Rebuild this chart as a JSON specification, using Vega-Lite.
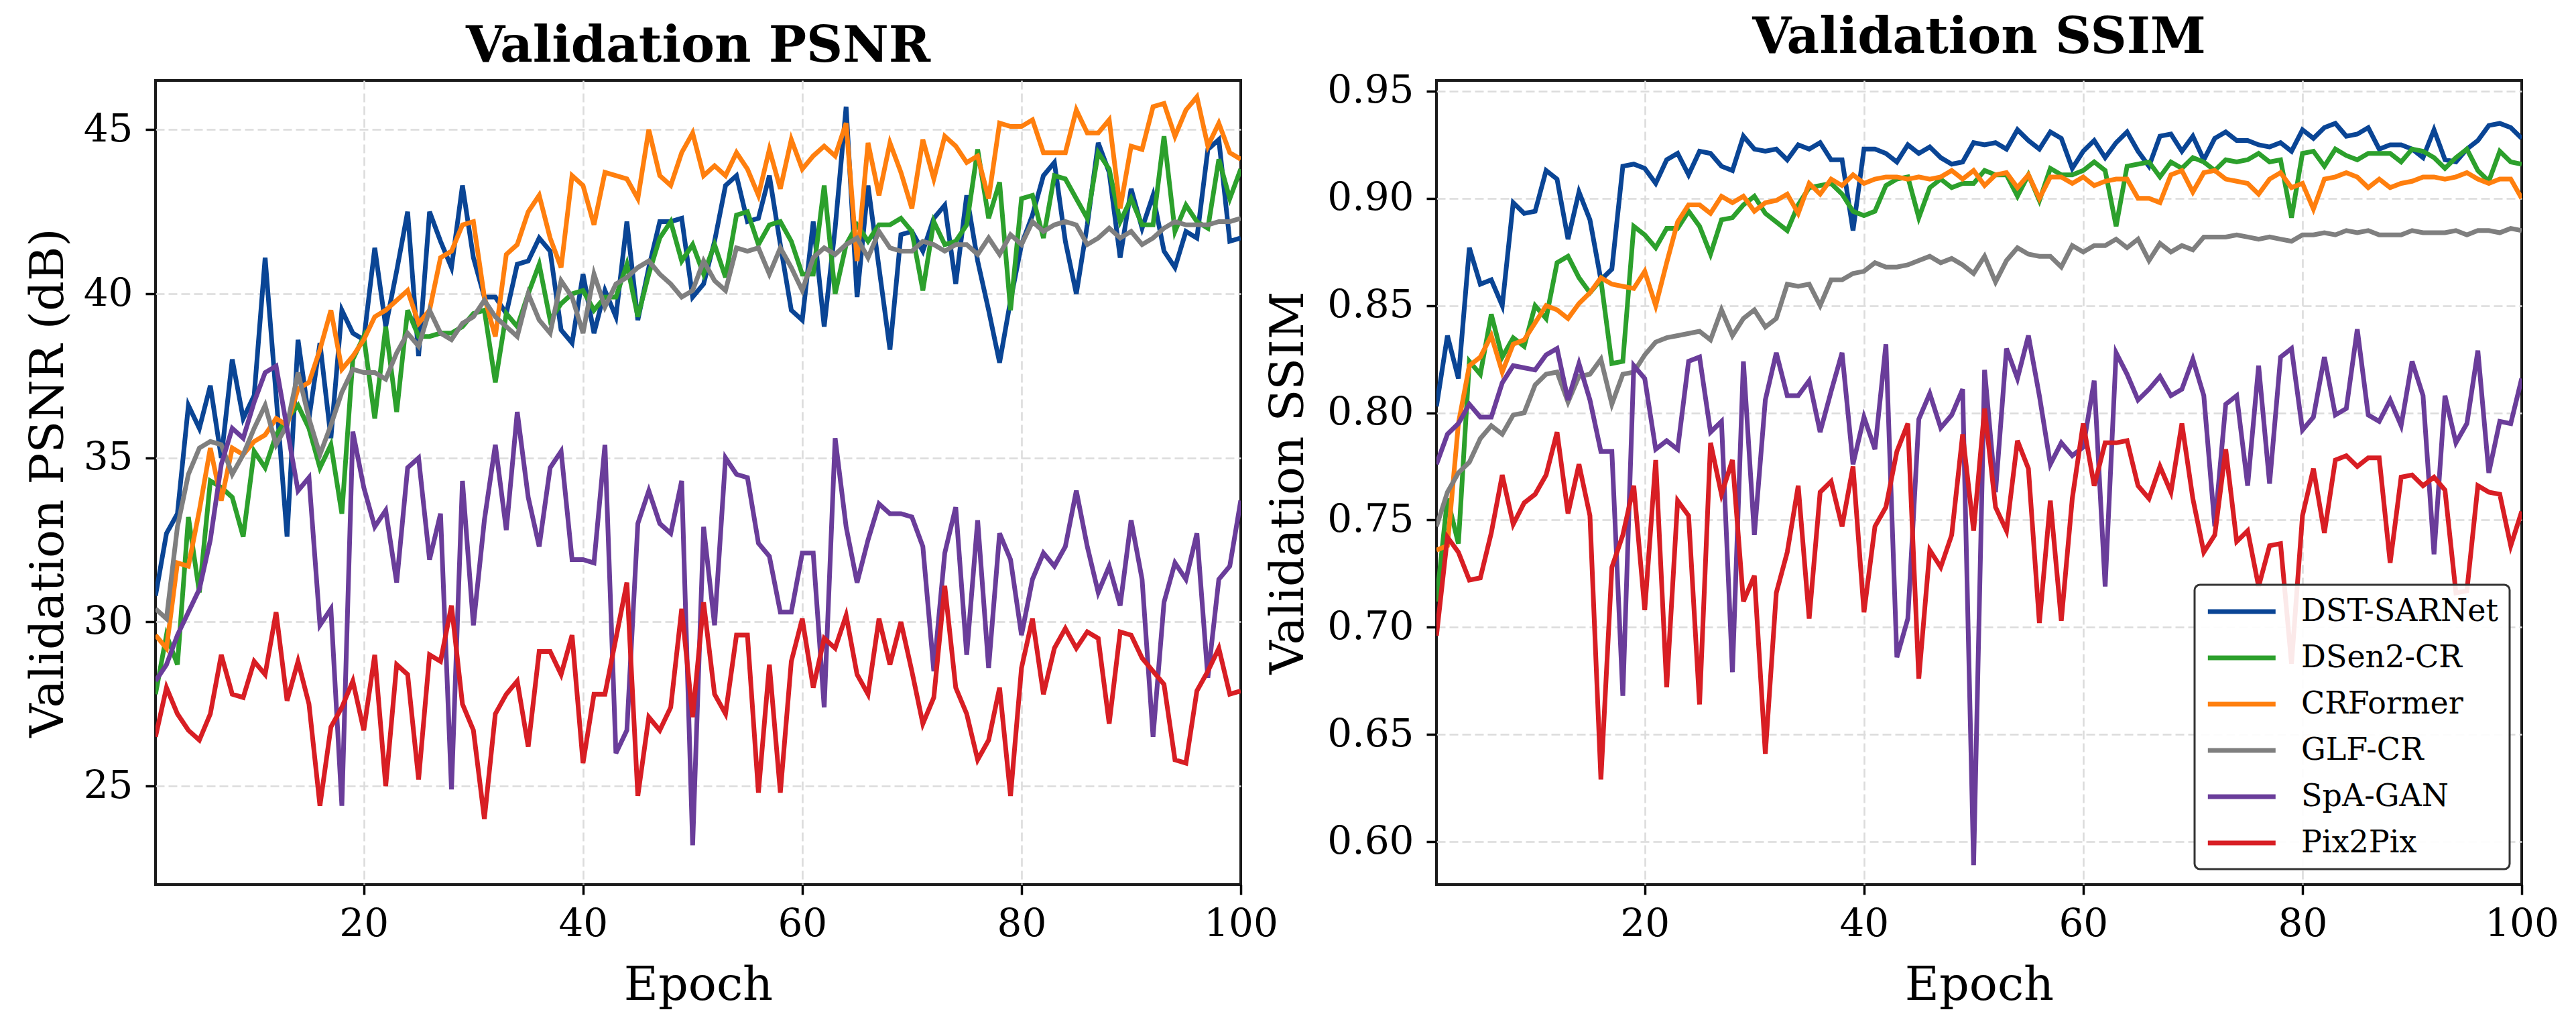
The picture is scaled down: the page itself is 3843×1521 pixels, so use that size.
{
  "$schema": "https://vega.github.io/schema/vega-lite/v6.json",
  "background": "white",
  "autosize": {"type": "pad"},
  "padding": {"left": 35, "top": 16, "right": 10, "bottom": 10},
  "config": {
    "font": "DejaVu Serif",
    "view": {"stroke": "#1a1a1a", "strokeWidth": 4, "fill": "white"},
    "axis": {
      "labelFont": "DejaVu Serif", "labelFontSize": 58, "labelColor": "#000",
      "titleFont": "DejaVu Serif", "titleFontSize": 70, "titleFontWeight": "normal", "titleColor": "#000",
      "tickColor": "#000", "tickSize": 15, "tickWidth": 3.5, "domain": false,
      "grid": true, "gridColor": "#dcdcdc", "gridDash": [13, 6], "gridWidth": 2.6
    },
    "axisX": {"labelPadding": 15, "titlePadding": 28, "labelFlush": false},
    "axisY": {"labelPadding": 19},
    "title": {"font": "DejaVu Serif", "fontSize": 75, "fontWeight": "bold", "color": "#000", "offset": 12, "anchor": "middle"},
    "line": {"strokeWidth": 7},
    "legend": {"strokeColor": "#333333", "strokeWidth": 3, "cornerRadius": 8, "fillColor": "rgba(255,255,255,0.9)", "padding": 16}
  },
  "datasets": {
    "psnr": [
{"model":"DST-SARNet","epoch":1,"psnr":30.8},{"model":"DST-SARNet","epoch":2,"psnr":32.7},{"model":"DST-SARNet","epoch":3,"psnr":33.3},{"model":"DST-SARNet","epoch":4,"psnr":36.6},{"model":"DST-SARNet","epoch":5,"psnr":35.9},{"model":"DST-SARNet","epoch":6,"psnr":37.2},{"model":"DST-SARNet","epoch":7,"psnr":35.0},{"model":"DST-SARNet","epoch":8,"psnr":38.0},{"model":"DST-SARNet","epoch":9,"psnr":36.2},{"model":"DST-SARNet","epoch":10,"psnr":36.9},
{"model":"DST-SARNet","epoch":11,"psnr":41.1},{"model":"DST-SARNet","epoch":12,"psnr":36.9},{"model":"DST-SARNet","epoch":13,"psnr":32.6},{"model":"DST-SARNet","epoch":14,"psnr":38.6},{"model":"DST-SARNet","epoch":15,"psnr":36.2},{"model":"DST-SARNet","epoch":16,"psnr":38.5},{"model":"DST-SARNet","epoch":17,"psnr":35.6},{"model":"DST-SARNet","epoch":18,"psnr":39.5},{"model":"DST-SARNet","epoch":19,"psnr":38.8},{"model":"DST-SARNet","epoch":20,"psnr":38.6},
{"model":"DST-SARNet","epoch":21,"psnr":41.4},{"model":"DST-SARNet","epoch":22,"psnr":39.0},{"model":"DST-SARNet","epoch":23,"psnr":40.7},{"model":"DST-SARNet","epoch":24,"psnr":42.5},{"model":"DST-SARNet","epoch":25,"psnr":38.1},{"model":"DST-SARNet","epoch":26,"psnr":42.5},{"model":"DST-SARNet","epoch":27,"psnr":41.6},{"model":"DST-SARNet","epoch":28,"psnr":40.8},{"model":"DST-SARNet","epoch":29,"psnr":43.3},{"model":"DST-SARNet","epoch":30,"psnr":41.1},
{"model":"DST-SARNet","epoch":31,"psnr":39.9},{"model":"DST-SARNet","epoch":32,"psnr":39.9},{"model":"DST-SARNet","epoch":33,"psnr":39.4},{"model":"DST-SARNet","epoch":34,"psnr":40.9},{"model":"DST-SARNet","epoch":35,"psnr":41.0},{"model":"DST-SARNet","epoch":36,"psnr":41.7},{"model":"DST-SARNet","epoch":37,"psnr":41.3},{"model":"DST-SARNet","epoch":38,"psnr":38.9},{"model":"DST-SARNet","epoch":39,"psnr":38.5},{"model":"DST-SARNet","epoch":40,"psnr":40.6},
{"model":"DST-SARNet","epoch":41,"psnr":38.8},{"model":"DST-SARNet","epoch":42,"psnr":40.1},{"model":"DST-SARNet","epoch":43,"psnr":39.3},{"model":"DST-SARNet","epoch":44,"psnr":42.2},{"model":"DST-SARNet","epoch":45,"psnr":39.2},{"model":"DST-SARNet","epoch":46,"psnr":40.8},{"model":"DST-SARNet","epoch":47,"psnr":42.2},{"model":"DST-SARNet","epoch":48,"psnr":42.2},{"model":"DST-SARNet","epoch":49,"psnr":42.3},{"model":"DST-SARNet","epoch":50,"psnr":39.9},
{"model":"DST-SARNet","epoch":51,"psnr":40.3},{"model":"DST-SARNet","epoch":52,"psnr":41.6},{"model":"DST-SARNet","epoch":53,"psnr":43.3},{"model":"DST-SARNet","epoch":54,"psnr":43.6},{"model":"DST-SARNet","epoch":55,"psnr":42.2},{"model":"DST-SARNet","epoch":56,"psnr":42.3},{"model":"DST-SARNet","epoch":57,"psnr":43.6},{"model":"DST-SARNet","epoch":58,"psnr":41.5},{"model":"DST-SARNet","epoch":59,"psnr":39.5},{"model":"DST-SARNet","epoch":60,"psnr":39.2},
{"model":"DST-SARNet","epoch":61,"psnr":42.2},{"model":"DST-SARNet","epoch":62,"psnr":39.0},{"model":"DST-SARNet","epoch":63,"psnr":42.0},{"model":"DST-SARNet","epoch":64,"psnr":45.7},{"model":"DST-SARNet","epoch":65,"psnr":39.9},{"model":"DST-SARNet","epoch":66,"psnr":43.3},{"model":"DST-SARNet","epoch":67,"psnr":40.8},{"model":"DST-SARNet","epoch":68,"psnr":38.3},{"model":"DST-SARNet","epoch":69,"psnr":41.8},{"model":"DST-SARNet","epoch":70,"psnr":41.9},
{"model":"DST-SARNet","epoch":71,"psnr":41.3},{"model":"DST-SARNet","epoch":72,"psnr":42.3},{"model":"DST-SARNet","epoch":73,"psnr":42.7},{"model":"DST-SARNet","epoch":74,"psnr":40.3},{"model":"DST-SARNet","epoch":75,"psnr":43.0},{"model":"DST-SARNet","epoch":76,"psnr":41.0},{"model":"DST-SARNet","epoch":77,"psnr":39.5},{"model":"DST-SARNet","epoch":78,"psnr":37.9},{"model":"DST-SARNet","epoch":79,"psnr":39.8},{"model":"DST-SARNet","epoch":80,"psnr":41.5},
{"model":"DST-SARNet","epoch":81,"psnr":42.4},{"model":"DST-SARNet","epoch":82,"psnr":43.6},{"model":"DST-SARNet","epoch":83,"psnr":44.0},{"model":"DST-SARNet","epoch":84,"psnr":41.6},{"model":"DST-SARNet","epoch":85,"psnr":40.0},{"model":"DST-SARNet","epoch":86,"psnr":42.1},{"model":"DST-SARNet","epoch":87,"psnr":44.6},{"model":"DST-SARNet","epoch":88,"psnr":43.7},{"model":"DST-SARNet","epoch":89,"psnr":41.1},{"model":"DST-SARNet","epoch":90,"psnr":43.2},
{"model":"DST-SARNet","epoch":91,"psnr":42.0},{"model":"DST-SARNet","epoch":92,"psnr":43.0},{"model":"DST-SARNet","epoch":93,"psnr":41.3},{"model":"DST-SARNet","epoch":94,"psnr":40.8},{"model":"DST-SARNet","epoch":95,"psnr":41.9},{"model":"DST-SARNet","epoch":96,"psnr":41.7},{"model":"DST-SARNet","epoch":97,"psnr":44.4},{"model":"DST-SARNet","epoch":98,"psnr":44.7},{"model":"DST-SARNet","epoch":99,"psnr":41.6},{"model":"DST-SARNet","epoch":100,"psnr":41.7},
{"model":"DSen2-CR","epoch":1,"psnr":27.8},{"model":"DSen2-CR","epoch":2,"psnr":29.6},{"model":"DSen2-CR","epoch":3,"psnr":28.7},{"model":"DSen2-CR","epoch":4,"psnr":33.2},{"model":"DSen2-CR","epoch":5,"psnr":30.9},{"model":"DSen2-CR","epoch":6,"psnr":34.3},{"model":"DSen2-CR","epoch":7,"psnr":34.1},{"model":"DSen2-CR","epoch":8,"psnr":33.8},{"model":"DSen2-CR","epoch":9,"psnr":32.6},{"model":"DSen2-CR","epoch":10,"psnr":35.2},
{"model":"DSen2-CR","epoch":11,"psnr":34.7},{"model":"DSen2-CR","epoch":12,"psnr":35.7},{"model":"DSen2-CR","epoch":13,"psnr":36.2},{"model":"DSen2-CR","epoch":14,"psnr":36.6},{"model":"DSen2-CR","epoch":15,"psnr":35.9},{"model":"DSen2-CR","epoch":16,"psnr":34.7},{"model":"DSen2-CR","epoch":17,"psnr":35.4},{"model":"DSen2-CR","epoch":18,"psnr":33.3},{"model":"DSen2-CR","epoch":19,"psnr":38.0},{"model":"DSen2-CR","epoch":20,"psnr":38.7},
{"model":"DSen2-CR","epoch":21,"psnr":36.2},{"model":"DSen2-CR","epoch":22,"psnr":39.0},{"model":"DSen2-CR","epoch":23,"psnr":36.4},{"model":"DSen2-CR","epoch":24,"psnr":39.5},{"model":"DSen2-CR","epoch":25,"psnr":38.7},{"model":"DSen2-CR","epoch":26,"psnr":38.7},{"model":"DSen2-CR","epoch":27,"psnr":38.8},{"model":"DSen2-CR","epoch":28,"psnr":38.8},{"model":"DSen2-CR","epoch":29,"psnr":39.0},{"model":"DSen2-CR","epoch":30,"psnr":39.4},
{"model":"DSen2-CR","epoch":31,"psnr":39.5},{"model":"DSen2-CR","epoch":32,"psnr":37.3},{"model":"DSen2-CR","epoch":33,"psnr":39.4},{"model":"DSen2-CR","epoch":34,"psnr":39.0},{"model":"DSen2-CR","epoch":35,"psnr":40.0},{"model":"DSen2-CR","epoch":36,"psnr":40.9},{"model":"DSen2-CR","epoch":37,"psnr":39.2},{"model":"DSen2-CR","epoch":38,"psnr":39.7},{"model":"DSen2-CR","epoch":39,"psnr":40.0},{"model":"DSen2-CR","epoch":40,"psnr":40.1},
{"model":"DSen2-CR","epoch":41,"psnr":39.5},{"model":"DSen2-CR","epoch":42,"psnr":39.9},{"model":"DSen2-CR","epoch":43,"psnr":39.9},{"model":"DSen2-CR","epoch":44,"psnr":40.9},{"model":"DSen2-CR","epoch":45,"psnr":39.3},{"model":"DSen2-CR","epoch":46,"psnr":40.6},{"model":"DSen2-CR","epoch":47,"psnr":41.7},{"model":"DSen2-CR","epoch":48,"psnr":42.2},{"model":"DSen2-CR","epoch":49,"psnr":41.0},{"model":"DSen2-CR","epoch":50,"psnr":41.5},
{"model":"DSen2-CR","epoch":51,"psnr":40.6},{"model":"DSen2-CR","epoch":52,"psnr":41.5},{"model":"DSen2-CR","epoch":53,"psnr":40.5},{"model":"DSen2-CR","epoch":54,"psnr":42.4},{"model":"DSen2-CR","epoch":55,"psnr":42.5},{"model":"DSen2-CR","epoch":56,"psnr":41.5},{"model":"DSen2-CR","epoch":57,"psnr":42.1},{"model":"DSen2-CR","epoch":58,"psnr":42.2},{"model":"DSen2-CR","epoch":59,"psnr":41.6},{"model":"DSen2-CR","epoch":60,"psnr":40.6},
{"model":"DSen2-CR","epoch":61,"psnr":40.6},{"model":"DSen2-CR","epoch":62,"psnr":43.3},{"model":"DSen2-CR","epoch":63,"psnr":40.0},{"model":"DSen2-CR","epoch":64,"psnr":41.5},{"model":"DSen2-CR","epoch":65,"psnr":42.1},{"model":"DSen2-CR","epoch":66,"psnr":41.6},{"model":"DSen2-CR","epoch":67,"psnr":42.1},{"model":"DSen2-CR","epoch":68,"psnr":42.1},{"model":"DSen2-CR","epoch":69,"psnr":42.3},{"model":"DSen2-CR","epoch":70,"psnr":41.9},
{"model":"DSen2-CR","epoch":71,"psnr":40.1},{"model":"DSen2-CR","epoch":72,"psnr":42.2},{"model":"DSen2-CR","epoch":73,"psnr":41.5},{"model":"DSen2-CR","epoch":74,"psnr":41.6},{"model":"DSen2-CR","epoch":75,"psnr":42.1},{"model":"DSen2-CR","epoch":76,"psnr":44.4},{"model":"DSen2-CR","epoch":77,"psnr":42.3},{"model":"DSen2-CR","epoch":78,"psnr":43.4},{"model":"DSen2-CR","epoch":79,"psnr":39.5},{"model":"DSen2-CR","epoch":80,"psnr":42.9},
{"model":"DSen2-CR","epoch":81,"psnr":43.0},{"model":"DSen2-CR","epoch":82,"psnr":41.7},{"model":"DSen2-CR","epoch":83,"psnr":43.6},{"model":"DSen2-CR","epoch":84,"psnr":43.5},{"model":"DSen2-CR","epoch":85,"psnr":42.9},{"model":"DSen2-CR","epoch":86,"psnr":42.3},{"model":"DSen2-CR","epoch":87,"psnr":44.3},{"model":"DSen2-CR","epoch":88,"psnr":43.8},{"model":"DSen2-CR","epoch":89,"psnr":42.2},{"model":"DSen2-CR","epoch":90,"psnr":42.9},
{"model":"DSen2-CR","epoch":91,"psnr":42.1},{"model":"DSen2-CR","epoch":92,"psnr":42.1},{"model":"DSen2-CR","epoch":93,"psnr":44.8},{"model":"DSen2-CR","epoch":94,"psnr":41.9},{"model":"DSen2-CR","epoch":95,"psnr":42.7},{"model":"DSen2-CR","epoch":96,"psnr":42.2},{"model":"DSen2-CR","epoch":97,"psnr":42.0},{"model":"DSen2-CR","epoch":98,"psnr":44.1},{"model":"DSen2-CR","epoch":99,"psnr":42.9},{"model":"DSen2-CR","epoch":100,"psnr":43.8},
{"model":"CRFormer","epoch":1,"psnr":29.6},{"model":"CRFormer","epoch":2,"psnr":29.2},{"model":"CRFormer","epoch":3,"psnr":31.8},{"model":"CRFormer","epoch":4,"psnr":31.7},{"model":"CRFormer","epoch":5,"psnr":33.4},{"model":"CRFormer","epoch":6,"psnr":35.3},{"model":"CRFormer","epoch":7,"psnr":33.7},{"model":"CRFormer","epoch":8,"psnr":35.3},{"model":"CRFormer","epoch":9,"psnr":35.1},{"model":"CRFormer","epoch":10,"psnr":35.5},
{"model":"CRFormer","epoch":11,"psnr":35.7},{"model":"CRFormer","epoch":12,"psnr":36.2},{"model":"CRFormer","epoch":13,"psnr":36.0},{"model":"CRFormer","epoch":14,"psnr":37.1},{"model":"CRFormer","epoch":15,"psnr":37.3},{"model":"CRFormer","epoch":16,"psnr":38.3},{"model":"CRFormer","epoch":17,"psnr":39.5},{"model":"CRFormer","epoch":18,"psnr":37.7},{"model":"CRFormer","epoch":19,"psnr":38.1},{"model":"CRFormer","epoch":20,"psnr":38.6},
{"model":"CRFormer","epoch":21,"psnr":39.3},{"model":"CRFormer","epoch":22,"psnr":39.5},{"model":"CRFormer","epoch":23,"psnr":39.8},{"model":"CRFormer","epoch":24,"psnr":40.1},{"model":"CRFormer","epoch":25,"psnr":39.1},{"model":"CRFormer","epoch":26,"psnr":39.5},{"model":"CRFormer","epoch":27,"psnr":41.1},{"model":"CRFormer","epoch":28,"psnr":41.3},{"model":"CRFormer","epoch":29,"psnr":42.1},{"model":"CRFormer","epoch":30,"psnr":42.2},
{"model":"CRFormer","epoch":31,"psnr":39.9},{"model":"CRFormer","epoch":32,"psnr":38.7},{"model":"CRFormer","epoch":33,"psnr":41.2},{"model":"CRFormer","epoch":34,"psnr":41.5},{"model":"CRFormer","epoch":35,"psnr":42.5},{"model":"CRFormer","epoch":36,"psnr":43.0},{"model":"CRFormer","epoch":37,"psnr":41.7},{"model":"CRFormer","epoch":38,"psnr":40.8},{"model":"CRFormer","epoch":39,"psnr":43.6},{"model":"CRFormer","epoch":40,"psnr":43.3},
{"model":"CRFormer","epoch":41,"psnr":42.1},{"model":"CRFormer","epoch":42,"psnr":43.7},{"model":"CRFormer","epoch":43,"psnr":43.6},{"model":"CRFormer","epoch":44,"psnr":43.5},{"model":"CRFormer","epoch":45,"psnr":42.9},{"model":"CRFormer","epoch":46,"psnr":45.0},{"model":"CRFormer","epoch":47,"psnr":43.6},{"model":"CRFormer","epoch":48,"psnr":43.3},{"model":"CRFormer","epoch":49,"psnr":44.3},{"model":"CRFormer","epoch":50,"psnr":44.9},
{"model":"CRFormer","epoch":51,"psnr":43.6},{"model":"CRFormer","epoch":52,"psnr":43.9},{"model":"CRFormer","epoch":53,"psnr":43.6},{"model":"CRFormer","epoch":54,"psnr":44.3},{"model":"CRFormer","epoch":55,"psnr":43.8},{"model":"CRFormer","epoch":56,"psnr":43.0},{"model":"CRFormer","epoch":57,"psnr":44.4},{"model":"CRFormer","epoch":58,"psnr":43.2},{"model":"CRFormer","epoch":59,"psnr":44.7},{"model":"CRFormer","epoch":60,"psnr":43.8},
{"model":"CRFormer","epoch":61,"psnr":44.2},{"model":"CRFormer","epoch":62,"psnr":44.5},{"model":"CRFormer","epoch":63,"psnr":44.2},{"model":"CRFormer","epoch":64,"psnr":45.2},{"model":"CRFormer","epoch":65,"psnr":41.0},{"model":"CRFormer","epoch":66,"psnr":44.6},{"model":"CRFormer","epoch":67,"psnr":43.0},{"model":"CRFormer","epoch":68,"psnr":44.6},{"model":"CRFormer","epoch":69,"psnr":43.7},{"model":"CRFormer","epoch":70,"psnr":42.6},
{"model":"CRFormer","epoch":71,"psnr":44.7},{"model":"CRFormer","epoch":72,"psnr":43.5},{"model":"CRFormer","epoch":73,"psnr":44.8},{"model":"CRFormer","epoch":74,"psnr":44.5},{"model":"CRFormer","epoch":75,"psnr":44.0},{"model":"CRFormer","epoch":76,"psnr":44.2},{"model":"CRFormer","epoch":77,"psnr":42.9},{"model":"CRFormer","epoch":78,"psnr":45.2},{"model":"CRFormer","epoch":79,"psnr":45.1},{"model":"CRFormer","epoch":80,"psnr":45.1},
{"model":"CRFormer","epoch":81,"psnr":45.3},{"model":"CRFormer","epoch":82,"psnr":44.3},{"model":"CRFormer","epoch":83,"psnr":44.3},{"model":"CRFormer","epoch":84,"psnr":44.3},{"model":"CRFormer","epoch":85,"psnr":45.6},{"model":"CRFormer","epoch":86,"psnr":44.9},{"model":"CRFormer","epoch":87,"psnr":44.9},{"model":"CRFormer","epoch":88,"psnr":45.3},{"model":"CRFormer","epoch":89,"psnr":42.6},{"model":"CRFormer","epoch":90,"psnr":44.5},
{"model":"CRFormer","epoch":91,"psnr":44.4},{"model":"CRFormer","epoch":92,"psnr":45.7},{"model":"CRFormer","epoch":93,"psnr":45.8},{"model":"CRFormer","epoch":94,"psnr":44.8},{"model":"CRFormer","epoch":95,"psnr":45.6},{"model":"CRFormer","epoch":96,"psnr":46.0},{"model":"CRFormer","epoch":97,"psnr":44.5},{"model":"CRFormer","epoch":98,"psnr":45.2},{"model":"CRFormer","epoch":99,"psnr":44.3},{"model":"CRFormer","epoch":100,"psnr":44.1},
{"model":"GLF-CR","epoch":1,"psnr":30.4},{"model":"GLF-CR","epoch":2,"psnr":30.1},{"model":"GLF-CR","epoch":3,"psnr":32.9},{"model":"GLF-CR","epoch":4,"psnr":34.5},{"model":"GLF-CR","epoch":5,"psnr":35.3},{"model":"GLF-CR","epoch":6,"psnr":35.5},{"model":"GLF-CR","epoch":7,"psnr":35.4},{"model":"GLF-CR","epoch":8,"psnr":34.5},{"model":"GLF-CR","epoch":9,"psnr":35.1},{"model":"GLF-CR","epoch":10,"psnr":35.9},
{"model":"GLF-CR","epoch":11,"psnr":36.6},{"model":"GLF-CR","epoch":12,"psnr":35.4},{"model":"GLF-CR","epoch":13,"psnr":36.0},{"model":"GLF-CR","epoch":14,"psnr":37.6},{"model":"GLF-CR","epoch":15,"psnr":36.2},{"model":"GLF-CR","epoch":16,"psnr":35.1},{"model":"GLF-CR","epoch":17,"psnr":36.0},{"model":"GLF-CR","epoch":18,"psnr":37.0},{"model":"GLF-CR","epoch":19,"psnr":37.7},{"model":"GLF-CR","epoch":20,"psnr":37.6},
{"model":"GLF-CR","epoch":21,"psnr":37.6},{"model":"GLF-CR","epoch":22,"psnr":37.4},{"model":"GLF-CR","epoch":23,"psnr":38.2},{"model":"GLF-CR","epoch":24,"psnr":38.8},{"model":"GLF-CR","epoch":25,"psnr":38.4},{"model":"GLF-CR","epoch":26,"psnr":39.5},{"model":"GLF-CR","epoch":27,"psnr":38.8},{"model":"GLF-CR","epoch":28,"psnr":38.6},{"model":"GLF-CR","epoch":29,"psnr":39.1},{"model":"GLF-CR","epoch":30,"psnr":39.3},
{"model":"GLF-CR","epoch":31,"psnr":39.8},{"model":"GLF-CR","epoch":32,"psnr":39.3},{"model":"GLF-CR","epoch":33,"psnr":39.0},{"model":"GLF-CR","epoch":34,"psnr":38.7},{"model":"GLF-CR","epoch":35,"psnr":40.0},{"model":"GLF-CR","epoch":36,"psnr":39.2},{"model":"GLF-CR","epoch":37,"psnr":38.8},{"model":"GLF-CR","epoch":38,"psnr":40.4},{"model":"GLF-CR","epoch":39,"psnr":39.9},{"model":"GLF-CR","epoch":40,"psnr":38.8},
{"model":"GLF-CR","epoch":41,"psnr":40.6},{"model":"GLF-CR","epoch":42,"psnr":39.6},{"model":"GLF-CR","epoch":43,"psnr":40.3},{"model":"GLF-CR","epoch":44,"psnr":40.5},{"model":"GLF-CR","epoch":45,"psnr":40.8},{"model":"GLF-CR","epoch":46,"psnr":41.0},{"model":"GLF-CR","epoch":47,"psnr":40.6},{"model":"GLF-CR","epoch":48,"psnr":40.3},{"model":"GLF-CR","epoch":49,"psnr":39.9},{"model":"GLF-CR","epoch":50,"psnr":40.1},
{"model":"GLF-CR","epoch":51,"psnr":41.0},{"model":"GLF-CR","epoch":52,"psnr":40.4},{"model":"GLF-CR","epoch":53,"psnr":40.1},{"model":"GLF-CR","epoch":54,"psnr":41.4},{"model":"GLF-CR","epoch":55,"psnr":41.3},{"model":"GLF-CR","epoch":56,"psnr":41.4},{"model":"GLF-CR","epoch":57,"psnr":40.6},{"model":"GLF-CR","epoch":58,"psnr":41.4},{"model":"GLF-CR","epoch":59,"psnr":40.8},{"model":"GLF-CR","epoch":60,"psnr":40.1},
{"model":"GLF-CR","epoch":61,"psnr":41.1},{"model":"GLF-CR","epoch":62,"psnr":41.4},{"model":"GLF-CR","epoch":63,"psnr":41.2},{"model":"GLF-CR","epoch":64,"psnr":41.5},{"model":"GLF-CR","epoch":65,"psnr":41.7},{"model":"GLF-CR","epoch":66,"psnr":41.1},{"model":"GLF-CR","epoch":67,"psnr":41.9},{"model":"GLF-CR","epoch":68,"psnr":41.4},{"model":"GLF-CR","epoch":69,"psnr":41.3},{"model":"GLF-CR","epoch":70,"psnr":41.3},
{"model":"GLF-CR","epoch":71,"psnr":41.6},{"model":"GLF-CR","epoch":72,"psnr":41.5},{"model":"GLF-CR","epoch":73,"psnr":41.3},{"model":"GLF-CR","epoch":74,"psnr":41.5},{"model":"GLF-CR","epoch":75,"psnr":41.5},{"model":"GLF-CR","epoch":76,"psnr":41.2},{"model":"GLF-CR","epoch":77,"psnr":41.7},{"model":"GLF-CR","epoch":78,"psnr":41.2},{"model":"GLF-CR","epoch":79,"psnr":41.8},{"model":"GLF-CR","epoch":80,"psnr":41.5},
{"model":"GLF-CR","epoch":81,"psnr":42.2},{"model":"GLF-CR","epoch":82,"psnr":41.9},{"model":"GLF-CR","epoch":83,"psnr":42.1},{"model":"GLF-CR","epoch":84,"psnr":42.2},{"model":"GLF-CR","epoch":85,"psnr":42.1},{"model":"GLF-CR","epoch":86,"psnr":41.5},{"model":"GLF-CR","epoch":87,"psnr":41.7},{"model":"GLF-CR","epoch":88,"psnr":42.0},{"model":"GLF-CR","epoch":89,"psnr":41.7},{"model":"GLF-CR","epoch":90,"psnr":41.9},
{"model":"GLF-CR","epoch":91,"psnr":41.5},{"model":"GLF-CR","epoch":92,"psnr":41.7},{"model":"GLF-CR","epoch":93,"psnr":42.0},{"model":"GLF-CR","epoch":94,"psnr":42.2},{"model":"GLF-CR","epoch":95,"psnr":42.1},{"model":"GLF-CR","epoch":96,"psnr":42.1},{"model":"GLF-CR","epoch":97,"psnr":42.1},{"model":"GLF-CR","epoch":98,"psnr":42.2},{"model":"GLF-CR","epoch":99,"psnr":42.2},{"model":"GLF-CR","epoch":100,"psnr":42.3},
{"model":"SpA-GAN","epoch":1,"psnr":28.2},{"model":"SpA-GAN","epoch":2,"psnr":28.7},{"model":"SpA-GAN","epoch":3,"psnr":29.6},{"model":"SpA-GAN","epoch":4,"psnr":30.3},{"model":"SpA-GAN","epoch":5,"psnr":31.0},{"model":"SpA-GAN","epoch":6,"psnr":32.5},{"model":"SpA-GAN","epoch":7,"psnr":34.8},{"model":"SpA-GAN","epoch":8,"psnr":35.9},{"model":"SpA-GAN","epoch":9,"psnr":35.6},{"model":"SpA-GAN","epoch":10,"psnr":36.7},
{"model":"SpA-GAN","epoch":11,"psnr":37.6},{"model":"SpA-GAN","epoch":12,"psnr":37.8},{"model":"SpA-GAN","epoch":13,"psnr":35.9},{"model":"SpA-GAN","epoch":14,"psnr":34.0},{"model":"SpA-GAN","epoch":15,"psnr":34.4},{"model":"SpA-GAN","epoch":16,"psnr":29.9},{"model":"SpA-GAN","epoch":17,"psnr":30.4},{"model":"SpA-GAN","epoch":18,"psnr":24.4},{"model":"SpA-GAN","epoch":19,"psnr":35.8},{"model":"SpA-GAN","epoch":20,"psnr":34.1},
{"model":"SpA-GAN","epoch":21,"psnr":32.9},{"model":"SpA-GAN","epoch":22,"psnr":33.4},{"model":"SpA-GAN","epoch":23,"psnr":31.2},{"model":"SpA-GAN","epoch":24,"psnr":34.7},{"model":"SpA-GAN","epoch":25,"psnr":35.0},{"model":"SpA-GAN","epoch":26,"psnr":31.9},{"model":"SpA-GAN","epoch":27,"psnr":33.3},{"model":"SpA-GAN","epoch":28,"psnr":24.9},{"model":"SpA-GAN","epoch":29,"psnr":34.3},{"model":"SpA-GAN","epoch":30,"psnr":29.9},
{"model":"SpA-GAN","epoch":31,"psnr":33.1},{"model":"SpA-GAN","epoch":32,"psnr":35.4},{"model":"SpA-GAN","epoch":33,"psnr":32.8},{"model":"SpA-GAN","epoch":34,"psnr":36.4},{"model":"SpA-GAN","epoch":35,"psnr":33.8},{"model":"SpA-GAN","epoch":36,"psnr":32.3},{"model":"SpA-GAN","epoch":37,"psnr":34.7},{"model":"SpA-GAN","epoch":38,"psnr":35.2},{"model":"SpA-GAN","epoch":39,"psnr":31.9},{"model":"SpA-GAN","epoch":40,"psnr":31.9},
{"model":"SpA-GAN","epoch":41,"psnr":31.8},{"model":"SpA-GAN","epoch":42,"psnr":35.4},{"model":"SpA-GAN","epoch":43,"psnr":26.0},{"model":"SpA-GAN","epoch":44,"psnr":26.7},{"model":"SpA-GAN","epoch":45,"psnr":33.0},{"model":"SpA-GAN","epoch":46,"psnr":34.0},{"model":"SpA-GAN","epoch":47,"psnr":33.0},{"model":"SpA-GAN","epoch":48,"psnr":32.7},{"model":"SpA-GAN","epoch":49,"psnr":34.3},{"model":"SpA-GAN","epoch":50,"psnr":23.2},
{"model":"SpA-GAN","epoch":51,"psnr":32.9},{"model":"SpA-GAN","epoch":52,"psnr":29.9},{"model":"SpA-GAN","epoch":53,"psnr":35.0},{"model":"SpA-GAN","epoch":54,"psnr":34.5},{"model":"SpA-GAN","epoch":55,"psnr":34.4},{"model":"SpA-GAN","epoch":56,"psnr":32.4},{"model":"SpA-GAN","epoch":57,"psnr":32.0},{"model":"SpA-GAN","epoch":58,"psnr":30.3},{"model":"SpA-GAN","epoch":59,"psnr":30.3},{"model":"SpA-GAN","epoch":60,"psnr":32.1},
{"model":"SpA-GAN","epoch":61,"psnr":32.1},{"model":"SpA-GAN","epoch":62,"psnr":27.4},{"model":"SpA-GAN","epoch":63,"psnr":35.6},{"model":"SpA-GAN","epoch":64,"psnr":32.9},{"model":"SpA-GAN","epoch":65,"psnr":31.2},{"model":"SpA-GAN","epoch":66,"psnr":32.5},{"model":"SpA-GAN","epoch":67,"psnr":33.6},{"model":"SpA-GAN","epoch":68,"psnr":33.3},{"model":"SpA-GAN","epoch":69,"psnr":33.3},{"model":"SpA-GAN","epoch":70,"psnr":33.2},
{"model":"SpA-GAN","epoch":71,"psnr":32.3},{"model":"SpA-GAN","epoch":72,"psnr":28.5},{"model":"SpA-GAN","epoch":73,"psnr":32.1},{"model":"SpA-GAN","epoch":74,"psnr":33.5},{"model":"SpA-GAN","epoch":75,"psnr":29.0},{"model":"SpA-GAN","epoch":76,"psnr":33.1},{"model":"SpA-GAN","epoch":77,"psnr":28.6},{"model":"SpA-GAN","epoch":78,"psnr":32.7},{"model":"SpA-GAN","epoch":79,"psnr":31.9},{"model":"SpA-GAN","epoch":80,"psnr":29.6},
{"model":"SpA-GAN","epoch":81,"psnr":31.3},{"model":"SpA-GAN","epoch":82,"psnr":32.1},{"model":"SpA-GAN","epoch":83,"psnr":31.7},{"model":"SpA-GAN","epoch":84,"psnr":32.3},{"model":"SpA-GAN","epoch":85,"psnr":34.0},{"model":"SpA-GAN","epoch":86,"psnr":32.3},{"model":"SpA-GAN","epoch":87,"psnr":30.9},{"model":"SpA-GAN","epoch":88,"psnr":31.7},{"model":"SpA-GAN","epoch":89,"psnr":30.5},{"model":"SpA-GAN","epoch":90,"psnr":33.1},
{"model":"SpA-GAN","epoch":91,"psnr":31.3},{"model":"SpA-GAN","epoch":92,"psnr":26.5},{"model":"SpA-GAN","epoch":93,"psnr":30.6},{"model":"SpA-GAN","epoch":94,"psnr":31.8},{"model":"SpA-GAN","epoch":95,"psnr":31.3},{"model":"SpA-GAN","epoch":96,"psnr":32.7},{"model":"SpA-GAN","epoch":97,"psnr":28.3},{"model":"SpA-GAN","epoch":98,"psnr":31.3},{"model":"SpA-GAN","epoch":99,"psnr":31.7},{"model":"SpA-GAN","epoch":100,"psnr":33.7},
{"model":"Pix2Pix","epoch":1,"psnr":26.5},{"model":"Pix2Pix","epoch":2,"psnr":28.0},{"model":"Pix2Pix","epoch":3,"psnr":27.2},{"model":"Pix2Pix","epoch":4,"psnr":26.7},{"model":"Pix2Pix","epoch":5,"psnr":26.4},{"model":"Pix2Pix","epoch":6,"psnr":27.2},{"model":"Pix2Pix","epoch":7,"psnr":29.0},{"model":"Pix2Pix","epoch":8,"psnr":27.8},{"model":"Pix2Pix","epoch":9,"psnr":27.7},{"model":"Pix2Pix","epoch":10,"psnr":28.8},
{"model":"Pix2Pix","epoch":11,"psnr":28.4},{"model":"Pix2Pix","epoch":12,"psnr":30.3},{"model":"Pix2Pix","epoch":13,"psnr":27.6},{"model":"Pix2Pix","epoch":14,"psnr":28.8},{"model":"Pix2Pix","epoch":15,"psnr":27.5},{"model":"Pix2Pix","epoch":16,"psnr":24.4},{"model":"Pix2Pix","epoch":17,"psnr":26.8},{"model":"Pix2Pix","epoch":18,"psnr":27.4},{"model":"Pix2Pix","epoch":19,"psnr":28.2},{"model":"Pix2Pix","epoch":20,"psnr":26.7},
{"model":"Pix2Pix","epoch":21,"psnr":29.0},{"model":"Pix2Pix","epoch":22,"psnr":25.0},{"model":"Pix2Pix","epoch":23,"psnr":28.7},{"model":"Pix2Pix","epoch":24,"psnr":28.4},{"model":"Pix2Pix","epoch":25,"psnr":25.2},{"model":"Pix2Pix","epoch":26,"psnr":29.0},{"model":"Pix2Pix","epoch":27,"psnr":28.8},{"model":"Pix2Pix","epoch":28,"psnr":30.5},{"model":"Pix2Pix","epoch":29,"psnr":27.5},{"model":"Pix2Pix","epoch":30,"psnr":26.7},
{"model":"Pix2Pix","epoch":31,"psnr":24.0},{"model":"Pix2Pix","epoch":32,"psnr":27.2},{"model":"Pix2Pix","epoch":33,"psnr":27.8},{"model":"Pix2Pix","epoch":34,"psnr":28.2},{"model":"Pix2Pix","epoch":35,"psnr":26.2},{"model":"Pix2Pix","epoch":36,"psnr":29.1},{"model":"Pix2Pix","epoch":37,"psnr":29.1},{"model":"Pix2Pix","epoch":38,"psnr":28.4},{"model":"Pix2Pix","epoch":39,"psnr":29.6},{"model":"Pix2Pix","epoch":40,"psnr":25.7},
{"model":"Pix2Pix","epoch":41,"psnr":27.8},{"model":"Pix2Pix","epoch":42,"psnr":27.8},{"model":"Pix2Pix","epoch":43,"psnr":29.5},{"model":"Pix2Pix","epoch":44,"psnr":31.2},{"model":"Pix2Pix","epoch":45,"psnr":24.7},{"model":"Pix2Pix","epoch":46,"psnr":27.1},{"model":"Pix2Pix","epoch":47,"psnr":26.7},{"model":"Pix2Pix","epoch":48,"psnr":27.4},{"model":"Pix2Pix","epoch":49,"psnr":30.4},{"model":"Pix2Pix","epoch":50,"psnr":27.1},
{"model":"Pix2Pix","epoch":51,"psnr":30.6},{"model":"Pix2Pix","epoch":52,"psnr":27.8},{"model":"Pix2Pix","epoch":53,"psnr":27.2},{"model":"Pix2Pix","epoch":54,"psnr":29.6},{"model":"Pix2Pix","epoch":55,"psnr":29.6},{"model":"Pix2Pix","epoch":56,"psnr":24.8},{"model":"Pix2Pix","epoch":57,"psnr":28.7},{"model":"Pix2Pix","epoch":58,"psnr":24.8},{"model":"Pix2Pix","epoch":59,"psnr":28.8},{"model":"Pix2Pix","epoch":60,"psnr":30.1},
{"model":"Pix2Pix","epoch":61,"psnr":28.0},{"model":"Pix2Pix","epoch":62,"psnr":29.5},{"model":"Pix2Pix","epoch":63,"psnr":29.2},{"model":"Pix2Pix","epoch":64,"psnr":30.2},{"model":"Pix2Pix","epoch":65,"psnr":28.4},{"model":"Pix2Pix","epoch":66,"psnr":27.8},{"model":"Pix2Pix","epoch":67,"psnr":30.1},{"model":"Pix2Pix","epoch":68,"psnr":28.7},{"model":"Pix2Pix","epoch":69,"psnr":30.0},{"model":"Pix2Pix","epoch":70,"psnr":28.5},
{"model":"Pix2Pix","epoch":71,"psnr":26.9},{"model":"Pix2Pix","epoch":72,"psnr":27.7},{"model":"Pix2Pix","epoch":73,"psnr":31.1},{"model":"Pix2Pix","epoch":74,"psnr":28.0},{"model":"Pix2Pix","epoch":75,"psnr":27.2},{"model":"Pix2Pix","epoch":76,"psnr":25.8},{"model":"Pix2Pix","epoch":77,"psnr":26.4},{"model":"Pix2Pix","epoch":78,"psnr":28.0},{"model":"Pix2Pix","epoch":79,"psnr":24.7},{"model":"Pix2Pix","epoch":80,"psnr":28.6},
{"model":"Pix2Pix","epoch":81,"psnr":30.1},{"model":"Pix2Pix","epoch":82,"psnr":27.8},{"model":"Pix2Pix","epoch":83,"psnr":29.2},{"model":"Pix2Pix","epoch":84,"psnr":29.8},{"model":"Pix2Pix","epoch":85,"psnr":29.2},{"model":"Pix2Pix","epoch":86,"psnr":29.7},{"model":"Pix2Pix","epoch":87,"psnr":29.5},{"model":"Pix2Pix","epoch":88,"psnr":26.9},{"model":"Pix2Pix","epoch":89,"psnr":29.7},{"model":"Pix2Pix","epoch":90,"psnr":29.6},
{"model":"Pix2Pix","epoch":91,"psnr":28.9},{"model":"Pix2Pix","epoch":92,"psnr":28.5},{"model":"Pix2Pix","epoch":93,"psnr":28.1},{"model":"Pix2Pix","epoch":94,"psnr":25.8},{"model":"Pix2Pix","epoch":95,"psnr":25.7},{"model":"Pix2Pix","epoch":96,"psnr":27.9},{"model":"Pix2Pix","epoch":97,"psnr":28.5},{"model":"Pix2Pix","epoch":98,"psnr":29.2},{"model":"Pix2Pix","epoch":99,"psnr":27.8},{"model":"Pix2Pix","epoch":100,"psnr":27.9}
    ],
    "ssim": [
{"model":"DST-SARNet","epoch":1,"ssim":0.803},{"model":"DST-SARNet","epoch":2,"ssim":0.836},{"model":"DST-SARNet","epoch":3,"ssim":0.816},{"model":"DST-SARNet","epoch":4,"ssim":0.877},{"model":"DST-SARNet","epoch":5,"ssim":0.860},{"model":"DST-SARNet","epoch":6,"ssim":0.862},{"model":"DST-SARNet","epoch":7,"ssim":0.850},{"model":"DST-SARNet","epoch":8,"ssim":0.898},{"model":"DST-SARNet","epoch":9,"ssim":0.893},{"model":"DST-SARNet","epoch":10,"ssim":0.894},
{"model":"DST-SARNet","epoch":11,"ssim":0.913},{"model":"DST-SARNet","epoch":12,"ssim":0.909},{"model":"DST-SARNet","epoch":13,"ssim":0.881},{"model":"DST-SARNet","epoch":14,"ssim":0.903},{"model":"DST-SARNet","epoch":15,"ssim":0.890},{"model":"DST-SARNet","epoch":16,"ssim":0.862},{"model":"DST-SARNet","epoch":17,"ssim":0.867},{"model":"DST-SARNet","epoch":18,"ssim":0.915},{"model":"DST-SARNet","epoch":19,"ssim":0.916},{"model":"DST-SARNet","epoch":20,"ssim":0.914},
{"model":"DST-SARNet","epoch":21,"ssim":0.907},{"model":"DST-SARNet","epoch":22,"ssim":0.918},{"model":"DST-SARNet","epoch":23,"ssim":0.921},{"model":"DST-SARNet","epoch":24,"ssim":0.911},{"model":"DST-SARNet","epoch":25,"ssim":0.922},{"model":"DST-SARNet","epoch":26,"ssim":0.921},{"model":"DST-SARNet","epoch":27,"ssim":0.915},{"model":"DST-SARNet","epoch":28,"ssim":0.913},{"model":"DST-SARNet","epoch":29,"ssim":0.929},{"model":"DST-SARNet","epoch":30,"ssim":0.923},
{"model":"DST-SARNet","epoch":31,"ssim":0.922},{"model":"DST-SARNet","epoch":32,"ssim":0.923},{"model":"DST-SARNet","epoch":33,"ssim":0.918},{"model":"DST-SARNet","epoch":34,"ssim":0.925},{"model":"DST-SARNet","epoch":35,"ssim":0.923},{"model":"DST-SARNet","epoch":36,"ssim":0.926},{"model":"DST-SARNet","epoch":37,"ssim":0.918},{"model":"DST-SARNet","epoch":38,"ssim":0.918},{"model":"DST-SARNet","epoch":39,"ssim":0.885},{"model":"DST-SARNet","epoch":40,"ssim":0.923},
{"model":"DST-SARNet","epoch":41,"ssim":0.923},{"model":"DST-SARNet","epoch":42,"ssim":0.921},{"model":"DST-SARNet","epoch":43,"ssim":0.917},{"model":"DST-SARNet","epoch":44,"ssim":0.925},{"model":"DST-SARNet","epoch":45,"ssim":0.921},{"model":"DST-SARNet","epoch":46,"ssim":0.924},{"model":"DST-SARNet","epoch":47,"ssim":0.919},{"model":"DST-SARNet","epoch":48,"ssim":0.916},{"model":"DST-SARNet","epoch":49,"ssim":0.917},{"model":"DST-SARNet","epoch":50,"ssim":0.926},
{"model":"DST-SARNet","epoch":51,"ssim":0.925},{"model":"DST-SARNet","epoch":52,"ssim":0.926},{"model":"DST-SARNet","epoch":53,"ssim":0.923},{"model":"DST-SARNet","epoch":54,"ssim":0.932},{"model":"DST-SARNet","epoch":55,"ssim":0.927},{"model":"DST-SARNet","epoch":56,"ssim":0.923},{"model":"DST-SARNet","epoch":57,"ssim":0.931},{"model":"DST-SARNet","epoch":58,"ssim":0.928},{"model":"DST-SARNet","epoch":59,"ssim":0.914},{"model":"DST-SARNet","epoch":60,"ssim":0.922},
{"model":"DST-SARNet","epoch":61,"ssim":0.927},{"model":"DST-SARNet","epoch":62,"ssim":0.919},{"model":"DST-SARNet","epoch":63,"ssim":0.926},{"model":"DST-SARNet","epoch":64,"ssim":0.931},{"model":"DST-SARNet","epoch":65,"ssim":0.922},{"model":"DST-SARNet","epoch":66,"ssim":0.915},{"model":"DST-SARNet","epoch":67,"ssim":0.929},{"model":"DST-SARNet","epoch":68,"ssim":0.930},{"model":"DST-SARNet","epoch":69,"ssim":0.922},{"model":"DST-SARNet","epoch":70,"ssim":0.929},
{"model":"DST-SARNet","epoch":71,"ssim":0.918},{"model":"DST-SARNet","epoch":72,"ssim":0.928},{"model":"DST-SARNet","epoch":73,"ssim":0.931},{"model":"DST-SARNet","epoch":74,"ssim":0.927},{"model":"DST-SARNet","epoch":75,"ssim":0.927},{"model":"DST-SARNet","epoch":76,"ssim":0.925},{"model":"DST-SARNet","epoch":77,"ssim":0.924},{"model":"DST-SARNet","epoch":78,"ssim":0.926},{"model":"DST-SARNet","epoch":79,"ssim":0.922},{"model":"DST-SARNet","epoch":80,"ssim":0.932},
{"model":"DST-SARNet","epoch":81,"ssim":0.928},{"model":"DST-SARNet","epoch":82,"ssim":0.933},{"model":"DST-SARNet","epoch":83,"ssim":0.935},{"model":"DST-SARNet","epoch":84,"ssim":0.929},{"model":"DST-SARNet","epoch":85,"ssim":0.930},{"model":"DST-SARNet","epoch":86,"ssim":0.933},{"model":"DST-SARNet","epoch":87,"ssim":0.923},{"model":"DST-SARNet","epoch":88,"ssim":0.925},{"model":"DST-SARNet","epoch":89,"ssim":0.925},{"model":"DST-SARNet","epoch":90,"ssim":0.923},
{"model":"DST-SARNet","epoch":91,"ssim":0.919},{"model":"DST-SARNet","epoch":92,"ssim":0.932},{"model":"DST-SARNet","epoch":93,"ssim":0.918},{"model":"DST-SARNet","epoch":94,"ssim":0.917},{"model":"DST-SARNet","epoch":95,"ssim":0.923},{"model":"DST-SARNet","epoch":96,"ssim":0.927},{"model":"DST-SARNet","epoch":97,"ssim":0.934},{"model":"DST-SARNet","epoch":98,"ssim":0.935},{"model":"DST-SARNet","epoch":99,"ssim":0.933},{"model":"DST-SARNet","epoch":100,"ssim":0.928},
{"model":"DSen2-CR","epoch":1,"ssim":0.712},{"model":"DSen2-CR","epoch":2,"ssim":0.760},{"model":"DSen2-CR","epoch":3,"ssim":0.739},{"model":"DSen2-CR","epoch":4,"ssim":0.824},{"model":"DSen2-CR","epoch":5,"ssim":0.818},{"model":"DSen2-CR","epoch":6,"ssim":0.846},{"model":"DSen2-CR","epoch":7,"ssim":0.826},{"model":"DSen2-CR","epoch":8,"ssim":0.835},{"model":"DSen2-CR","epoch":9,"ssim":0.831},{"model":"DSen2-CR","epoch":10,"ssim":0.850},
{"model":"DSen2-CR","epoch":11,"ssim":0.844},{"model":"DSen2-CR","epoch":12,"ssim":0.870},{"model":"DSen2-CR","epoch":13,"ssim":0.873},{"model":"DSen2-CR","epoch":14,"ssim":0.863},{"model":"DSen2-CR","epoch":15,"ssim":0.856},{"model":"DSen2-CR","epoch":16,"ssim":0.862},{"model":"DSen2-CR","epoch":17,"ssim":0.823},{"model":"DSen2-CR","epoch":18,"ssim":0.824},{"model":"DSen2-CR","epoch":19,"ssim":0.887},{"model":"DSen2-CR","epoch":20,"ssim":0.883},
{"model":"DSen2-CR","epoch":21,"ssim":0.877},{"model":"DSen2-CR","epoch":22,"ssim":0.886},{"model":"DSen2-CR","epoch":23,"ssim":0.886},{"model":"DSen2-CR","epoch":24,"ssim":0.894},{"model":"DSen2-CR","epoch":25,"ssim":0.887},{"model":"DSen2-CR","epoch":26,"ssim":0.874},{"model":"DSen2-CR","epoch":27,"ssim":0.890},{"model":"DSen2-CR","epoch":28,"ssim":0.891},{"model":"DSen2-CR","epoch":29,"ssim":0.897},{"model":"DSen2-CR","epoch":30,"ssim":0.901},
{"model":"DSen2-CR","epoch":31,"ssim":0.893},{"model":"DSen2-CR","epoch":32,"ssim":0.889},{"model":"DSen2-CR","epoch":33,"ssim":0.885},{"model":"DSen2-CR","epoch":34,"ssim":0.897},{"model":"DSen2-CR","epoch":35,"ssim":0.905},{"model":"DSen2-CR","epoch":36,"ssim":0.906},{"model":"DSen2-CR","epoch":37,"ssim":0.907},{"model":"DSen2-CR","epoch":38,"ssim":0.902},{"model":"DSen2-CR","epoch":39,"ssim":0.894},{"model":"DSen2-CR","epoch":40,"ssim":0.892},
{"model":"DSen2-CR","epoch":41,"ssim":0.894},{"model":"DSen2-CR","epoch":42,"ssim":0.906},{"model":"DSen2-CR","epoch":43,"ssim":0.909},{"model":"DSen2-CR","epoch":44,"ssim":0.910},{"model":"DSen2-CR","epoch":45,"ssim":0.891},{"model":"DSen2-CR","epoch":46,"ssim":0.905},{"model":"DSen2-CR","epoch":47,"ssim":0.909},{"model":"DSen2-CR","epoch":48,"ssim":0.905},{"model":"DSen2-CR","epoch":49,"ssim":0.907},{"model":"DSen2-CR","epoch":50,"ssim":0.907},
{"model":"DSen2-CR","epoch":51,"ssim":0.913},{"model":"DSen2-CR","epoch":52,"ssim":0.911},{"model":"DSen2-CR","epoch":53,"ssim":0.911},{"model":"DSen2-CR","epoch":54,"ssim":0.901},{"model":"DSen2-CR","epoch":55,"ssim":0.911},{"model":"DSen2-CR","epoch":56,"ssim":0.899},{"model":"DSen2-CR","epoch":57,"ssim":0.914},{"model":"DSen2-CR","epoch":58,"ssim":0.911},{"model":"DSen2-CR","epoch":59,"ssim":0.911},{"model":"DSen2-CR","epoch":60,"ssim":0.913},
{"model":"DSen2-CR","epoch":61,"ssim":0.917},{"model":"DSen2-CR","epoch":62,"ssim":0.913},{"model":"DSen2-CR","epoch":63,"ssim":0.887},{"model":"DSen2-CR","epoch":64,"ssim":0.915},{"model":"DSen2-CR","epoch":65,"ssim":0.916},{"model":"DSen2-CR","epoch":66,"ssim":0.917},{"model":"DSen2-CR","epoch":67,"ssim":0.910},{"model":"DSen2-CR","epoch":68,"ssim":0.917},{"model":"DSen2-CR","epoch":69,"ssim":0.914},{"model":"DSen2-CR","epoch":70,"ssim":0.919},
{"model":"DSen2-CR","epoch":71,"ssim":0.917},{"model":"DSen2-CR","epoch":72,"ssim":0.913},{"model":"DSen2-CR","epoch":73,"ssim":0.918},{"model":"DSen2-CR","epoch":74,"ssim":0.917},{"model":"DSen2-CR","epoch":75,"ssim":0.918},{"model":"DSen2-CR","epoch":76,"ssim":0.921},{"model":"DSen2-CR","epoch":77,"ssim":0.917},{"model":"DSen2-CR","epoch":78,"ssim":0.918},{"model":"DSen2-CR","epoch":79,"ssim":0.891},{"model":"DSen2-CR","epoch":80,"ssim":0.921},
{"model":"DSen2-CR","epoch":81,"ssim":0.922},{"model":"DSen2-CR","epoch":82,"ssim":0.915},{"model":"DSen2-CR","epoch":83,"ssim":0.923},{"model":"DSen2-CR","epoch":84,"ssim":0.920},{"model":"DSen2-CR","epoch":85,"ssim":0.918},{"model":"DSen2-CR","epoch":86,"ssim":0.921},{"model":"DSen2-CR","epoch":87,"ssim":0.921},{"model":"DSen2-CR","epoch":88,"ssim":0.921},{"model":"DSen2-CR","epoch":89,"ssim":0.917},{"model":"DSen2-CR","epoch":90,"ssim":0.923},
{"model":"DSen2-CR","epoch":91,"ssim":0.922},{"model":"DSen2-CR","epoch":92,"ssim":0.919},{"model":"DSen2-CR","epoch":93,"ssim":0.914},{"model":"DSen2-CR","epoch":94,"ssim":0.919},{"model":"DSen2-CR","epoch":95,"ssim":0.923},{"model":"DSen2-CR","epoch":96,"ssim":0.913},{"model":"DSen2-CR","epoch":97,"ssim":0.908},{"model":"DSen2-CR","epoch":98,"ssim":0.922},{"model":"DSen2-CR","epoch":99,"ssim":0.917},{"model":"DSen2-CR","epoch":100,"ssim":0.916},
{"model":"CRFormer","epoch":1,"ssim":0.736},{"model":"CRFormer","epoch":2,"ssim":0.738},{"model":"CRFormer","epoch":3,"ssim":0.795},{"model":"CRFormer","epoch":4,"ssim":0.822},{"model":"CRFormer","epoch":5,"ssim":0.826},{"model":"CRFormer","epoch":6,"ssim":0.836},{"model":"CRFormer","epoch":7,"ssim":0.819},{"model":"CRFormer","epoch":8,"ssim":0.832},{"model":"CRFormer","epoch":9,"ssim":0.834},{"model":"CRFormer","epoch":10,"ssim":0.842},
{"model":"CRFormer","epoch":11,"ssim":0.850},{"model":"CRFormer","epoch":12,"ssim":0.848},{"model":"CRFormer","epoch":13,"ssim":0.844},{"model":"CRFormer","epoch":14,"ssim":0.851},{"model":"CRFormer","epoch":15,"ssim":0.856},{"model":"CRFormer","epoch":16,"ssim":0.863},{"model":"CRFormer","epoch":17,"ssim":0.860},{"model":"CRFormer","epoch":18,"ssim":0.859},{"model":"CRFormer","epoch":19,"ssim":0.858},{"model":"CRFormer","epoch":20,"ssim":0.866},
{"model":"CRFormer","epoch":21,"ssim":0.850},{"model":"CRFormer","epoch":22,"ssim":0.870},{"model":"CRFormer","epoch":23,"ssim":0.889},{"model":"CRFormer","epoch":24,"ssim":0.897},{"model":"CRFormer","epoch":25,"ssim":0.897},{"model":"CRFormer","epoch":26,"ssim":0.893},{"model":"CRFormer","epoch":27,"ssim":0.901},{"model":"CRFormer","epoch":28,"ssim":0.898},{"model":"CRFormer","epoch":29,"ssim":0.901},{"model":"CRFormer","epoch":30,"ssim":0.894},
{"model":"CRFormer","epoch":31,"ssim":0.898},{"model":"CRFormer","epoch":32,"ssim":0.899},{"model":"CRFormer","epoch":33,"ssim":0.902},{"model":"CRFormer","epoch":34,"ssim":0.893},{"model":"CRFormer","epoch":35,"ssim":0.907},{"model":"CRFormer","epoch":36,"ssim":0.902},{"model":"CRFormer","epoch":37,"ssim":0.909},{"model":"CRFormer","epoch":38,"ssim":0.906},{"model":"CRFormer","epoch":39,"ssim":0.911},{"model":"CRFormer","epoch":40,"ssim":0.907},
{"model":"CRFormer","epoch":41,"ssim":0.909},{"model":"CRFormer","epoch":42,"ssim":0.910},{"model":"CRFormer","epoch":43,"ssim":0.910},{"model":"CRFormer","epoch":44,"ssim":0.909},{"model":"CRFormer","epoch":45,"ssim":0.910},{"model":"CRFormer","epoch":46,"ssim":0.909},{"model":"CRFormer","epoch":47,"ssim":0.910},{"model":"CRFormer","epoch":48,"ssim":0.913},{"model":"CRFormer","epoch":49,"ssim":0.909},{"model":"CRFormer","epoch":50,"ssim":0.913},
{"model":"CRFormer","epoch":51,"ssim":0.906},{"model":"CRFormer","epoch":52,"ssim":0.911},{"model":"CRFormer","epoch":53,"ssim":0.912},{"model":"CRFormer","epoch":54,"ssim":0.905},{"model":"CRFormer","epoch":55,"ssim":0.911},{"model":"CRFormer","epoch":56,"ssim":0.900},{"model":"CRFormer","epoch":57,"ssim":0.910},{"model":"CRFormer","epoch":58,"ssim":0.910},{"model":"CRFormer","epoch":59,"ssim":0.907},{"model":"CRFormer","epoch":60,"ssim":0.910},
{"model":"CRFormer","epoch":61,"ssim":0.906},{"model":"CRFormer","epoch":62,"ssim":0.908},{"model":"CRFormer","epoch":63,"ssim":0.909},{"model":"CRFormer","epoch":64,"ssim":0.909},{"model":"CRFormer","epoch":65,"ssim":0.900},{"model":"CRFormer","epoch":66,"ssim":0.900},{"model":"CRFormer","epoch":67,"ssim":0.898},{"model":"CRFormer","epoch":68,"ssim":0.911},{"model":"CRFormer","epoch":69,"ssim":0.913},{"model":"CRFormer","epoch":70,"ssim":0.903},
{"model":"CRFormer","epoch":71,"ssim":0.912},{"model":"CRFormer","epoch":72,"ssim":0.913},{"model":"CRFormer","epoch":73,"ssim":0.909},{"model":"CRFormer","epoch":74,"ssim":0.908},{"model":"CRFormer","epoch":75,"ssim":0.907},{"model":"CRFormer","epoch":76,"ssim":0.902},{"model":"CRFormer","epoch":77,"ssim":0.909},{"model":"CRFormer","epoch":78,"ssim":0.912},{"model":"CRFormer","epoch":79,"ssim":0.905},{"model":"CRFormer","epoch":80,"ssim":0.907},
{"model":"CRFormer","epoch":81,"ssim":0.895},{"model":"CRFormer","epoch":82,"ssim":0.909},{"model":"CRFormer","epoch":83,"ssim":0.910},{"model":"CRFormer","epoch":84,"ssim":0.912},{"model":"CRFormer","epoch":85,"ssim":0.910},{"model":"CRFormer","epoch":86,"ssim":0.905},{"model":"CRFormer","epoch":87,"ssim":0.909},{"model":"CRFormer","epoch":88,"ssim":0.905},{"model":"CRFormer","epoch":89,"ssim":0.907},{"model":"CRFormer","epoch":90,"ssim":0.908},
{"model":"CRFormer","epoch":91,"ssim":0.910},{"model":"CRFormer","epoch":92,"ssim":0.910},{"model":"CRFormer","epoch":93,"ssim":0.909},{"model":"CRFormer","epoch":94,"ssim":0.910},{"model":"CRFormer","epoch":95,"ssim":0.912},{"model":"CRFormer","epoch":96,"ssim":0.909},{"model":"CRFormer","epoch":97,"ssim":0.907},{"model":"CRFormer","epoch":98,"ssim":0.909},{"model":"CRFormer","epoch":99,"ssim":0.909},{"model":"CRFormer","epoch":100,"ssim":0.900},
{"model":"GLF-CR","epoch":1,"ssim":0.747},{"model":"GLF-CR","epoch":2,"ssim":0.763},{"model":"GLF-CR","epoch":3,"ssim":0.772},{"model":"GLF-CR","epoch":4,"ssim":0.777},{"model":"GLF-CR","epoch":5,"ssim":0.788},{"model":"GLF-CR","epoch":6,"ssim":0.794},{"model":"GLF-CR","epoch":7,"ssim":0.790},{"model":"GLF-CR","epoch":8,"ssim":0.799},{"model":"GLF-CR","epoch":9,"ssim":0.800},{"model":"GLF-CR","epoch":10,"ssim":0.813},
{"model":"GLF-CR","epoch":11,"ssim":0.818},{"model":"GLF-CR","epoch":12,"ssim":0.819},{"model":"GLF-CR","epoch":13,"ssim":0.805},{"model":"GLF-CR","epoch":14,"ssim":0.817},{"model":"GLF-CR","epoch":15,"ssim":0.818},{"model":"GLF-CR","epoch":16,"ssim":0.825},{"model":"GLF-CR","epoch":17,"ssim":0.804},{"model":"GLF-CR","epoch":18,"ssim":0.818},{"model":"GLF-CR","epoch":19,"ssim":0.819},{"model":"GLF-CR","epoch":20,"ssim":0.827},
{"model":"GLF-CR","epoch":21,"ssim":0.833},{"model":"GLF-CR","epoch":22,"ssim":0.835},{"model":"GLF-CR","epoch":23,"ssim":0.836},{"model":"GLF-CR","epoch":24,"ssim":0.837},{"model":"GLF-CR","epoch":25,"ssim":0.838},{"model":"GLF-CR","epoch":26,"ssim":0.834},{"model":"GLF-CR","epoch":27,"ssim":0.848},{"model":"GLF-CR","epoch":28,"ssim":0.836},{"model":"GLF-CR","epoch":29,"ssim":0.844},{"model":"GLF-CR","epoch":30,"ssim":0.848},
{"model":"GLF-CR","epoch":31,"ssim":0.840},{"model":"GLF-CR","epoch":32,"ssim":0.844},{"model":"GLF-CR","epoch":33,"ssim":0.860},{"model":"GLF-CR","epoch":34,"ssim":0.859},{"model":"GLF-CR","epoch":35,"ssim":0.860},{"model":"GLF-CR","epoch":36,"ssim":0.850},{"model":"GLF-CR","epoch":37,"ssim":0.862},{"model":"GLF-CR","epoch":38,"ssim":0.862},{"model":"GLF-CR","epoch":39,"ssim":0.865},{"model":"GLF-CR","epoch":40,"ssim":0.866},
{"model":"GLF-CR","epoch":41,"ssim":0.870},{"model":"GLF-CR","epoch":42,"ssim":0.868},{"model":"GLF-CR","epoch":43,"ssim":0.868},{"model":"GLF-CR","epoch":44,"ssim":0.869},{"model":"GLF-CR","epoch":45,"ssim":0.871},{"model":"GLF-CR","epoch":46,"ssim":0.873},{"model":"GLF-CR","epoch":47,"ssim":0.870},{"model":"GLF-CR","epoch":48,"ssim":0.872},{"model":"GLF-CR","epoch":49,"ssim":0.869},{"model":"GLF-CR","epoch":50,"ssim":0.865},
{"model":"GLF-CR","epoch":51,"ssim":0.873},{"model":"GLF-CR","epoch":52,"ssim":0.861},{"model":"GLF-CR","epoch":53,"ssim":0.871},{"model":"GLF-CR","epoch":54,"ssim":0.877},{"model":"GLF-CR","epoch":55,"ssim":0.874},{"model":"GLF-CR","epoch":56,"ssim":0.873},{"model":"GLF-CR","epoch":57,"ssim":0.873},{"model":"GLF-CR","epoch":58,"ssim":0.868},{"model":"GLF-CR","epoch":59,"ssim":0.878},{"model":"GLF-CR","epoch":60,"ssim":0.875},
{"model":"GLF-CR","epoch":61,"ssim":0.878},{"model":"GLF-CR","epoch":62,"ssim":0.878},{"model":"GLF-CR","epoch":63,"ssim":0.881},{"model":"GLF-CR","epoch":64,"ssim":0.877},{"model":"GLF-CR","epoch":65,"ssim":0.881},{"model":"GLF-CR","epoch":66,"ssim":0.871},{"model":"GLF-CR","epoch":67,"ssim":0.879},{"model":"GLF-CR","epoch":68,"ssim":0.875},{"model":"GLF-CR","epoch":69,"ssim":0.878},{"model":"GLF-CR","epoch":70,"ssim":0.876},
{"model":"GLF-CR","epoch":71,"ssim":0.882},{"model":"GLF-CR","epoch":72,"ssim":0.882},{"model":"GLF-CR","epoch":73,"ssim":0.882},{"model":"GLF-CR","epoch":74,"ssim":0.883},{"model":"GLF-CR","epoch":75,"ssim":0.882},{"model":"GLF-CR","epoch":76,"ssim":0.881},{"model":"GLF-CR","epoch":77,"ssim":0.882},{"model":"GLF-CR","epoch":78,"ssim":0.881},{"model":"GLF-CR","epoch":79,"ssim":0.880},{"model":"GLF-CR","epoch":80,"ssim":0.883},
{"model":"GLF-CR","epoch":81,"ssim":0.883},{"model":"GLF-CR","epoch":82,"ssim":0.884},{"model":"GLF-CR","epoch":83,"ssim":0.883},{"model":"GLF-CR","epoch":84,"ssim":0.885},{"model":"GLF-CR","epoch":85,"ssim":0.884},{"model":"GLF-CR","epoch":86,"ssim":0.885},{"model":"GLF-CR","epoch":87,"ssim":0.883},{"model":"GLF-CR","epoch":88,"ssim":0.883},{"model":"GLF-CR","epoch":89,"ssim":0.883},{"model":"GLF-CR","epoch":90,"ssim":0.885},
{"model":"GLF-CR","epoch":91,"ssim":0.884},{"model":"GLF-CR","epoch":92,"ssim":0.884},{"model":"GLF-CR","epoch":93,"ssim":0.884},{"model":"GLF-CR","epoch":94,"ssim":0.885},{"model":"GLF-CR","epoch":95,"ssim":0.883},{"model":"GLF-CR","epoch":96,"ssim":0.885},{"model":"GLF-CR","epoch":97,"ssim":0.885},{"model":"GLF-CR","epoch":98,"ssim":0.884},{"model":"GLF-CR","epoch":99,"ssim":0.886},{"model":"GLF-CR","epoch":100,"ssim":0.885},
{"model":"SpA-GAN","epoch":1,"ssim":0.776},{"model":"SpA-GAN","epoch":2,"ssim":0.790},{"model":"SpA-GAN","epoch":3,"ssim":0.795},{"model":"SpA-GAN","epoch":4,"ssim":0.804},{"model":"SpA-GAN","epoch":5,"ssim":0.798},{"model":"SpA-GAN","epoch":6,"ssim":0.798},{"model":"SpA-GAN","epoch":7,"ssim":0.814},{"model":"SpA-GAN","epoch":8,"ssim":0.822},{"model":"SpA-GAN","epoch":9,"ssim":0.821},{"model":"SpA-GAN","epoch":10,"ssim":0.820},
{"model":"SpA-GAN","epoch":11,"ssim":0.827},{"model":"SpA-GAN","epoch":12,"ssim":0.830},{"model":"SpA-GAN","epoch":13,"ssim":0.806},{"model":"SpA-GAN","epoch":14,"ssim":0.823},{"model":"SpA-GAN","epoch":15,"ssim":0.806},{"model":"SpA-GAN","epoch":16,"ssim":0.782},{"model":"SpA-GAN","epoch":17,"ssim":0.782},{"model":"SpA-GAN","epoch":18,"ssim":0.668},{"model":"SpA-GAN","epoch":19,"ssim":0.822},{"model":"SpA-GAN","epoch":20,"ssim":0.816},
{"model":"SpA-GAN","epoch":21,"ssim":0.783},{"model":"SpA-GAN","epoch":22,"ssim":0.787},{"model":"SpA-GAN","epoch":23,"ssim":0.783},{"model":"SpA-GAN","epoch":24,"ssim":0.824},{"model":"SpA-GAN","epoch":25,"ssim":0.826},{"model":"SpA-GAN","epoch":26,"ssim":0.791},{"model":"SpA-GAN","epoch":27,"ssim":0.796},{"model":"SpA-GAN","epoch":28,"ssim":0.679},{"model":"SpA-GAN","epoch":29,"ssim":0.824},{"model":"SpA-GAN","epoch":30,"ssim":0.743},
{"model":"SpA-GAN","epoch":31,"ssim":0.806},{"model":"SpA-GAN","epoch":32,"ssim":0.828},{"model":"SpA-GAN","epoch":33,"ssim":0.808},{"model":"SpA-GAN","epoch":34,"ssim":0.808},{"model":"SpA-GAN","epoch":35,"ssim":0.815},{"model":"SpA-GAN","epoch":36,"ssim":0.791},{"model":"SpA-GAN","epoch":37,"ssim":0.810},{"model":"SpA-GAN","epoch":38,"ssim":0.828},{"model":"SpA-GAN","epoch":39,"ssim":0.776},{"model":"SpA-GAN","epoch":40,"ssim":0.798},
{"model":"SpA-GAN","epoch":41,"ssim":0.783},{"model":"SpA-GAN","epoch":42,"ssim":0.832},{"model":"SpA-GAN","epoch":43,"ssim":0.686},{"model":"SpA-GAN","epoch":44,"ssim":0.704},{"model":"SpA-GAN","epoch":45,"ssim":0.797},{"model":"SpA-GAN","epoch":46,"ssim":0.809},{"model":"SpA-GAN","epoch":47,"ssim":0.793},{"model":"SpA-GAN","epoch":48,"ssim":0.799},{"model":"SpA-GAN","epoch":49,"ssim":0.811},{"model":"SpA-GAN","epoch":50,"ssim":0.589},
{"model":"SpA-GAN","epoch":51,"ssim":0.820},{"model":"SpA-GAN","epoch":52,"ssim":0.763},{"model":"SpA-GAN","epoch":53,"ssim":0.830},{"model":"SpA-GAN","epoch":54,"ssim":0.816},{"model":"SpA-GAN","epoch":55,"ssim":0.836},{"model":"SpA-GAN","epoch":56,"ssim":0.808},{"model":"SpA-GAN","epoch":57,"ssim":0.776},{"model":"SpA-GAN","epoch":58,"ssim":0.786},{"model":"SpA-GAN","epoch":59,"ssim":0.780},{"model":"SpA-GAN","epoch":60,"ssim":0.784},
{"model":"SpA-GAN","epoch":61,"ssim":0.815},{"model":"SpA-GAN","epoch":62,"ssim":0.719},{"model":"SpA-GAN","epoch":63,"ssim":0.828},{"model":"SpA-GAN","epoch":64,"ssim":0.818},{"model":"SpA-GAN","epoch":65,"ssim":0.806},{"model":"SpA-GAN","epoch":66,"ssim":0.811},{"model":"SpA-GAN","epoch":67,"ssim":0.817},{"model":"SpA-GAN","epoch":68,"ssim":0.808},{"model":"SpA-GAN","epoch":69,"ssim":0.811},{"model":"SpA-GAN","epoch":70,"ssim":0.825},
{"model":"SpA-GAN","epoch":71,"ssim":0.808},{"model":"SpA-GAN","epoch":72,"ssim":0.747},{"model":"SpA-GAN","epoch":73,"ssim":0.804},{"model":"SpA-GAN","epoch":74,"ssim":0.808},{"model":"SpA-GAN","epoch":75,"ssim":0.766},{"model":"SpA-GAN","epoch":76,"ssim":0.822},{"model":"SpA-GAN","epoch":77,"ssim":0.767},{"model":"SpA-GAN","epoch":78,"ssim":0.826},{"model":"SpA-GAN","epoch":79,"ssim":0.830},{"model":"SpA-GAN","epoch":80,"ssim":0.792},
{"model":"SpA-GAN","epoch":81,"ssim":0.798},{"model":"SpA-GAN","epoch":82,"ssim":0.826},{"model":"SpA-GAN","epoch":83,"ssim":0.799},{"model":"SpA-GAN","epoch":84,"ssim":0.802},{"model":"SpA-GAN","epoch":85,"ssim":0.839},{"model":"SpA-GAN","epoch":86,"ssim":0.799},{"model":"SpA-GAN","epoch":87,"ssim":0.796},{"model":"SpA-GAN","epoch":88,"ssim":0.806},{"model":"SpA-GAN","epoch":89,"ssim":0.794},{"model":"SpA-GAN","epoch":90,"ssim":0.824},
{"model":"SpA-GAN","epoch":91,"ssim":0.808},{"model":"SpA-GAN","epoch":92,"ssim":0.734},{"model":"SpA-GAN","epoch":93,"ssim":0.808},{"model":"SpA-GAN","epoch":94,"ssim":0.786},{"model":"SpA-GAN","epoch":95,"ssim":0.795},{"model":"SpA-GAN","epoch":96,"ssim":0.829},{"model":"SpA-GAN","epoch":97,"ssim":0.772},{"model":"SpA-GAN","epoch":98,"ssim":0.796},{"model":"SpA-GAN","epoch":99,"ssim":0.795},{"model":"SpA-GAN","epoch":100,"ssim":0.816},
{"model":"Pix2Pix","epoch":1,"ssim":0.696},{"model":"Pix2Pix","epoch":2,"ssim":0.742},{"model":"Pix2Pix","epoch":3,"ssim":0.735},{"model":"Pix2Pix","epoch":4,"ssim":0.722},{"model":"Pix2Pix","epoch":5,"ssim":0.723},{"model":"Pix2Pix","epoch":6,"ssim":0.744},{"model":"Pix2Pix","epoch":7,"ssim":0.771},{"model":"Pix2Pix","epoch":8,"ssim":0.748},{"model":"Pix2Pix","epoch":9,"ssim":0.758},{"model":"Pix2Pix","epoch":10,"ssim":0.762},
{"model":"Pix2Pix","epoch":11,"ssim":0.771},{"model":"Pix2Pix","epoch":12,"ssim":0.791},{"model":"Pix2Pix","epoch":13,"ssim":0.753},{"model":"Pix2Pix","epoch":14,"ssim":0.776},{"model":"Pix2Pix","epoch":15,"ssim":0.752},{"model":"Pix2Pix","epoch":16,"ssim":0.629},{"model":"Pix2Pix","epoch":17,"ssim":0.728},{"model":"Pix2Pix","epoch":18,"ssim":0.743},{"model":"Pix2Pix","epoch":19,"ssim":0.766},{"model":"Pix2Pix","epoch":20,"ssim":0.708},
{"model":"Pix2Pix","epoch":21,"ssim":0.778},{"model":"Pix2Pix","epoch":22,"ssim":0.672},{"model":"Pix2Pix","epoch":23,"ssim":0.759},{"model":"Pix2Pix","epoch":24,"ssim":0.752},{"model":"Pix2Pix","epoch":25,"ssim":0.664},{"model":"Pix2Pix","epoch":26,"ssim":0.786},{"model":"Pix2Pix","epoch":27,"ssim":0.762},{"model":"Pix2Pix","epoch":28,"ssim":0.778},{"model":"Pix2Pix","epoch":29,"ssim":0.712},{"model":"Pix2Pix","epoch":30,"ssim":0.724},
{"model":"Pix2Pix","epoch":31,"ssim":0.641},{"model":"Pix2Pix","epoch":32,"ssim":0.716},{"model":"Pix2Pix","epoch":33,"ssim":0.735},{"model":"Pix2Pix","epoch":34,"ssim":0.766},{"model":"Pix2Pix","epoch":35,"ssim":0.704},{"model":"Pix2Pix","epoch":36,"ssim":0.763},{"model":"Pix2Pix","epoch":37,"ssim":0.768},{"model":"Pix2Pix","epoch":38,"ssim":0.747},{"model":"Pix2Pix","epoch":39,"ssim":0.775},{"model":"Pix2Pix","epoch":40,"ssim":0.707},
{"model":"Pix2Pix","epoch":41,"ssim":0.747},{"model":"Pix2Pix","epoch":42,"ssim":0.756},{"model":"Pix2Pix","epoch":43,"ssim":0.782},{"model":"Pix2Pix","epoch":44,"ssim":0.795},{"model":"Pix2Pix","epoch":45,"ssim":0.676},{"model":"Pix2Pix","epoch":46,"ssim":0.736},{"model":"Pix2Pix","epoch":47,"ssim":0.728},{"model":"Pix2Pix","epoch":48,"ssim":0.743},{"model":"Pix2Pix","epoch":49,"ssim":0.790},{"model":"Pix2Pix","epoch":50,"ssim":0.745},
{"model":"Pix2Pix","epoch":51,"ssim":0.802},{"model":"Pix2Pix","epoch":52,"ssim":0.756},{"model":"Pix2Pix","epoch":53,"ssim":0.745},{"model":"Pix2Pix","epoch":54,"ssim":0.787},{"model":"Pix2Pix","epoch":55,"ssim":0.774},{"model":"Pix2Pix","epoch":56,"ssim":0.702},{"model":"Pix2Pix","epoch":57,"ssim":0.759},{"model":"Pix2Pix","epoch":58,"ssim":0.703},{"model":"Pix2Pix","epoch":59,"ssim":0.760},{"model":"Pix2Pix","epoch":60,"ssim":0.795},
{"model":"Pix2Pix","epoch":61,"ssim":0.766},{"model":"Pix2Pix","epoch":62,"ssim":0.786},{"model":"Pix2Pix","epoch":63,"ssim":0.786},{"model":"Pix2Pix","epoch":64,"ssim":0.787},{"model":"Pix2Pix","epoch":65,"ssim":0.766},{"model":"Pix2Pix","epoch":66,"ssim":0.760},{"model":"Pix2Pix","epoch":67,"ssim":0.775},{"model":"Pix2Pix","epoch":68,"ssim":0.763},{"model":"Pix2Pix","epoch":69,"ssim":0.795},{"model":"Pix2Pix","epoch":70,"ssim":0.760},
{"model":"Pix2Pix","epoch":71,"ssim":0.735},{"model":"Pix2Pix","epoch":72,"ssim":0.743},{"model":"Pix2Pix","epoch":73,"ssim":0.783},{"model":"Pix2Pix","epoch":74,"ssim":0.740},{"model":"Pix2Pix","epoch":75,"ssim":0.745},{"model":"Pix2Pix","epoch":76,"ssim":0.719},{"model":"Pix2Pix","epoch":77,"ssim":0.738},{"model":"Pix2Pix","epoch":78,"ssim":0.739},{"model":"Pix2Pix","epoch":79,"ssim":0.683},{"model":"Pix2Pix","epoch":80,"ssim":0.752},
{"model":"Pix2Pix","epoch":81,"ssim":0.774},{"model":"Pix2Pix","epoch":82,"ssim":0.744},{"model":"Pix2Pix","epoch":83,"ssim":0.778},{"model":"Pix2Pix","epoch":84,"ssim":0.780},{"model":"Pix2Pix","epoch":85,"ssim":0.775},{"model":"Pix2Pix","epoch":86,"ssim":0.779},{"model":"Pix2Pix","epoch":87,"ssim":0.779},{"model":"Pix2Pix","epoch":88,"ssim":0.730},{"model":"Pix2Pix","epoch":89,"ssim":0.770},{"model":"Pix2Pix","epoch":90,"ssim":0.771},
{"model":"Pix2Pix","epoch":91,"ssim":0.766},{"model":"Pix2Pix","epoch":92,"ssim":0.770},{"model":"Pix2Pix","epoch":93,"ssim":0.764},{"model":"Pix2Pix","epoch":94,"ssim":0.716},{"model":"Pix2Pix","epoch":95,"ssim":0.717},{"model":"Pix2Pix","epoch":96,"ssim":0.766},{"model":"Pix2Pix","epoch":97,"ssim":0.763},{"model":"Pix2Pix","epoch":98,"ssim":0.762},{"model":"Pix2Pix","epoch":99,"ssim":0.738},{"model":"Pix2Pix","epoch":100,"ssim":0.754}
    ]
  },
  "spacing": 292,
  "bounds": "flush",
  "resolve": {"legend": {"color": "independent"}},
  "hconcat": [
    {
      "width": 1619,
      "height": 1199,
      "title": "Validation PSNR",
      "data": {"name": "psnr"},
      "mark": {"type": "line", "strokeWidth": 7, "clip": true},
      "encoding": {
        "x": {"field": "epoch", "type": "quantitative", "title": "Epoch",
              "scale": {"domain": [1, 100], "nice": false, "zero": false},
              "axis": {"values": [20, 40, 60, 80, 100], "format": "d",
                       "gridOpacity": {"condition": {"test": "datum.value === 100", "value": 0}, "value": 1}}},
        "y": {"field": "psnr", "type": "quantitative", "title": "Validation PSNR (dB)",
              "scale": {"domain": [22, 46.5], "nice": false, "zero": false},
              "axis": {"values": [25, 30, 35, 40, 45], "format": "d", "titlePadding": 16}},
        "color": {"field": "model", "type": "nominal",
                  "scale": {"domain": ["DST-SARNet", "DSen2-CR", "CRFormer", "GLF-CR", "SpA-GAN", "Pix2Pix"],
                            "range": ["#0a4595", "#2ca02c", "#ff7f0e", "#7f7f7f", "#6a3d9a", "#d81e24"]},
                  "legend": null}
      }
    },
    {
      "width": 1619,
      "height": 1199,
      "title": "Validation SSIM",
      "data": {"name": "ssim"},
      "mark": {"type": "line", "strokeWidth": 7, "clip": true},
      "encoding": {
        "x": {"field": "epoch", "type": "quantitative", "title": "Epoch",
              "scale": {"domain": [1, 100], "nice": false, "zero": false},
              "axis": {"values": [20, 40, 60, 80, 100], "format": "d",
                       "gridOpacity": {"condition": {"test": "datum.value === 100", "value": 0}, "value": 1}}},
        "y": {"field": "ssim", "type": "quantitative", "title": "Validation SSIM",
              "scale": {"domain": [0.58, 0.955], "nice": false, "zero": false},
              "axis": {"values": [0.6, 0.65, 0.7, 0.75, 0.8, 0.85, 0.9, 0.95], "format": ".2f", "titlePadding": 21}},
        "color": {"field": "model", "type": "nominal",
                  "scale": {"domain": ["DST-SARNet", "DSen2-CR", "CRFormer", "GLF-CR", "SpA-GAN", "Pix2Pix"],
                            "range": ["#0a4595", "#2ca02c", "#ff7f0e", "#7f7f7f", "#6a3d9a", "#d81e24"]},
                  "legend": {"orient": "none", "legendX": 1131, "legendY": 752, "title": null,
                             "symbolType": "M-1,0H4", "symbolSize": 1632, "symbolStrokeWidth": 7,
                             "labelFont": "DejaVu Serif", "labelFontSize": 46, "labelColor": "#000",
                             "labelOffset": 95, "labelLimit": 0, "rowPadding": 22}}
      }
    }
  ]
}
